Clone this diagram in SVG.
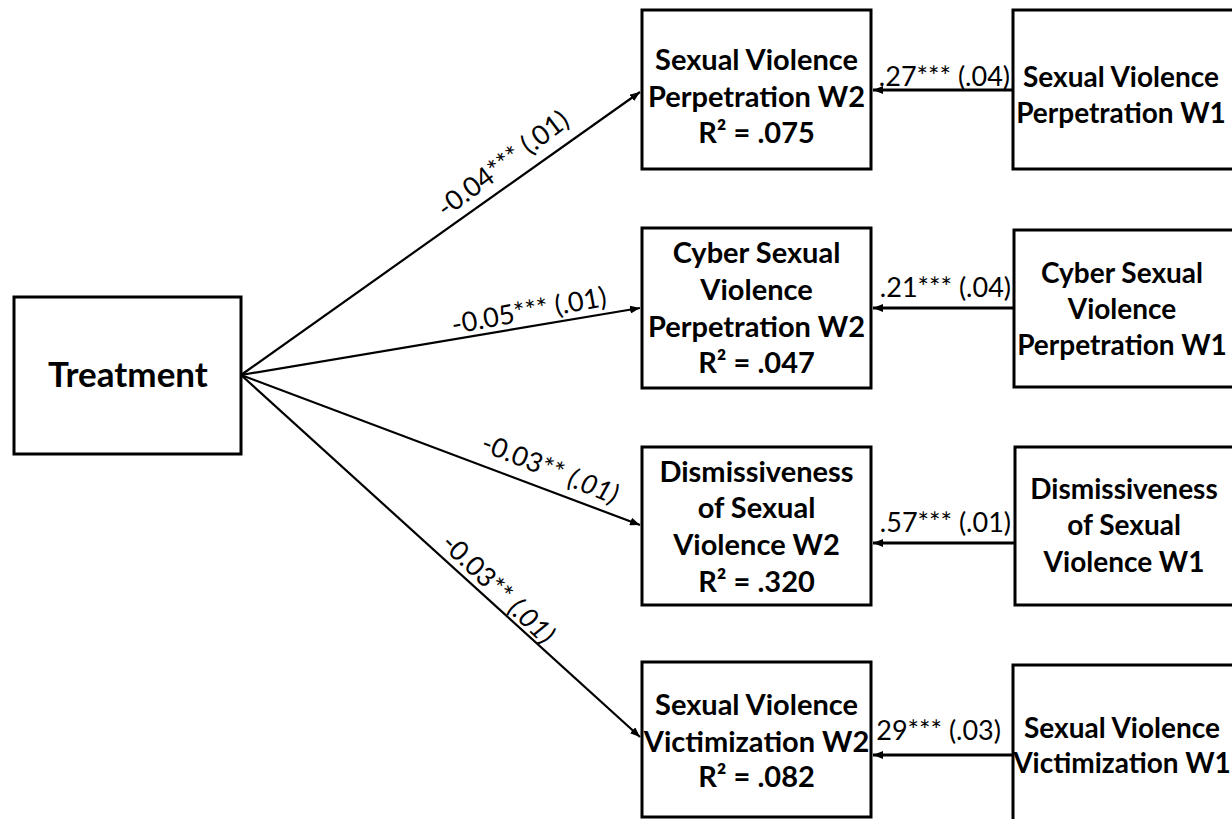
<svg xmlns="http://www.w3.org/2000/svg" width="1232" height="819" viewBox="0 0 1232 819">
  <style>
    .box { fill: #ffffff; stroke: #000000; stroke-width: 3; }
    .nt { font-family: Lato, "Liberation Sans", sans-serif; font-weight: bold; font-size: 29px; fill: #000; text-anchor: middle; }
    .nt1 { font-family: Lato, "Liberation Sans", sans-serif; font-weight: bold; font-size: 28px; fill: #000; text-anchor: middle; }
    .tt { font-family: Lato, "Liberation Sans", sans-serif; font-weight: bold; font-size: 35px; fill: #000; text-anchor: middle; }
    .lb { font-family: Lato, "Liberation Sans", sans-serif; font-size: 27px; fill: #000; }
    .dl { stroke: #000; stroke-width: 2.2; fill: none; }
    .hl { stroke: #000; stroke-width: 3.2; fill: none; }
  </style>
  <defs>
    <marker id="ah" markerUnits="userSpaceOnUse" markerWidth="10" markerHeight="8" refX="10" refY="4" orient="auto">
      <path d="M0,0 L10,4 L0,8 z" fill="#000"/>
    </marker>
  </defs>
  <rect width="1232" height="819" fill="#ffffff"/>

  <g id="connectors">
    <line class="dl" x1="241" y1="375" x2="640" y2="92" marker-end="url(#ah)"/>
    <line class="dl" x1="241" y1="375" x2="640" y2="308" marker-end="url(#ah)"/>
    <line class="dl" x1="241" y1="375" x2="640" y2="525" marker-end="url(#ah)"/>
    <line class="dl" x1="241" y1="375" x2="640" y2="737" marker-end="url(#ah)"/>
    <line class="hl" x1="1012" y1="90" x2="873" y2="90" marker-end="url(#ah)"/>
    <line class="hl" x1="1013" y1="308" x2="873" y2="308" marker-end="url(#ah)"/>
    <line class="hl" x1="1014" y1="543" x2="873" y2="543" marker-end="url(#ah)"/>
    <line class="hl" x1="1012" y1="755" x2="873" y2="755" marker-end="url(#ah)"/>
    <text class="lb" text-anchor="middle" transform="translate(503,164) rotate(-37)" x="0" y="9">-0.04*** (.01)</text>
    <text class="lb" text-anchor="middle" transform="translate(529,311) rotate(-10.5)" x="0" y="9">-0.05*** (.01)</text>
    <text class="lb" text-anchor="middle" transform="translate(550,469) rotate(22)" x="0" y="9">-0.03** <tspan font-style="italic">(.01)</tspan></text>
    <text class="lb" text-anchor="middle" transform="translate(498,589) rotate(44)" x="0" y="9">-0.03** <tspan font-style="italic">(.01)</tspan></text>
    <text class="lb" text-anchor="end" x="1010" y="86">.27*** (.04)</text>
    <text class="lb" text-anchor="end" x="1011" y="297">.21*** (.04)</text>
    <text class="lb" text-anchor="end" x="1011" y="532">.57*** (.01)</text>
    <text class="lb" text-anchor="end" x="1001" y="740">29*** (.03)</text>
  </g>

  <g id="treatment">
    <rect class="box" x="14" y="297" width="227" height="157"/>
    <text class="tt" x="128" y="387">Treatment</text>
  </g>

  <g id="svp_w2">
    <rect class="box" x="642" y="10" width="229" height="159"/>
    <text class="nt" x="756.5" y="70">Sexual Violence</text>
    <text class="nt" x="756.5" y="107">Perpetration W2</text>
    <text class="nt" x="756.5" y="143">R² = .075</text>
  </g>

  <g id="csvp_w2">
    <rect class="box" x="642" y="228" width="229" height="160"/>
    <text class="nt" x="756.5" y="263">Cyber Sexual</text>
    <text class="nt" x="756.5" y="300">Violence</text>
    <text class="nt" x="756.5" y="337">Perpetration W2</text>
    <text class="nt" x="756.5" y="373">R² = .047</text>
  </g>

  <g id="dsv_w2">
    <rect class="box" x="642" y="447" width="229" height="158"/>
    <text class="nt" x="756.5" y="482">Dismissiveness</text>
    <text class="nt" x="756.5" y="518">of Sexual</text>
    <text class="nt" x="756.5" y="555">Violence W2</text>
    <text class="nt" x="756.5" y="592">R² = .320</text>
  </g>

  <g id="svv_w2">
    <rect class="box" x="642" y="662" width="229" height="155"/>
    <text class="nt" x="756.5" y="715">Sexual Violence</text>
    <text class="nt" x="756.5" y="752">Victimization W2</text>
    <text class="nt" x="756.5" y="787">R² = .082</text>
  </g>

  <g id="svp_w1">
    <rect class="box" x="1013" y="10" width="240" height="159"/>
    <text class="nt1" x="1121" y="87">Sexual Violence</text>
    <text class="nt1" x="1121" y="123">Perpetration W1</text>
  </g>

  <g id="csvp_w1">
    <rect class="box" x="1014" y="230" width="240" height="157"/>
    <text class="nt1" x="1122" y="283">Cyber Sexual</text>
    <text class="nt1" x="1122" y="319">Violence</text>
    <text class="nt1" x="1122" y="355">Perpetration W1</text>
  </g>

  <g id="dsv_w1">
    <rect class="box" x="1015" y="447" width="240" height="158"/>
    <text class="nt1" x="1124" y="499">Dismissiveness</text>
    <text class="nt1" x="1124" y="535">of Sexual</text>
    <text class="nt1" x="1124" y="572">Violence W1</text>
  </g>

  <g id="svv_w1">
    <rect class="box" x="1013" y="665" width="240" height="170"/>
    <text class="nt1" x="1122" y="738">Sexual Violence</text>
    <text class="nt1" x="1122" y="773">Victimization W1</text>
  </g>
</svg>
